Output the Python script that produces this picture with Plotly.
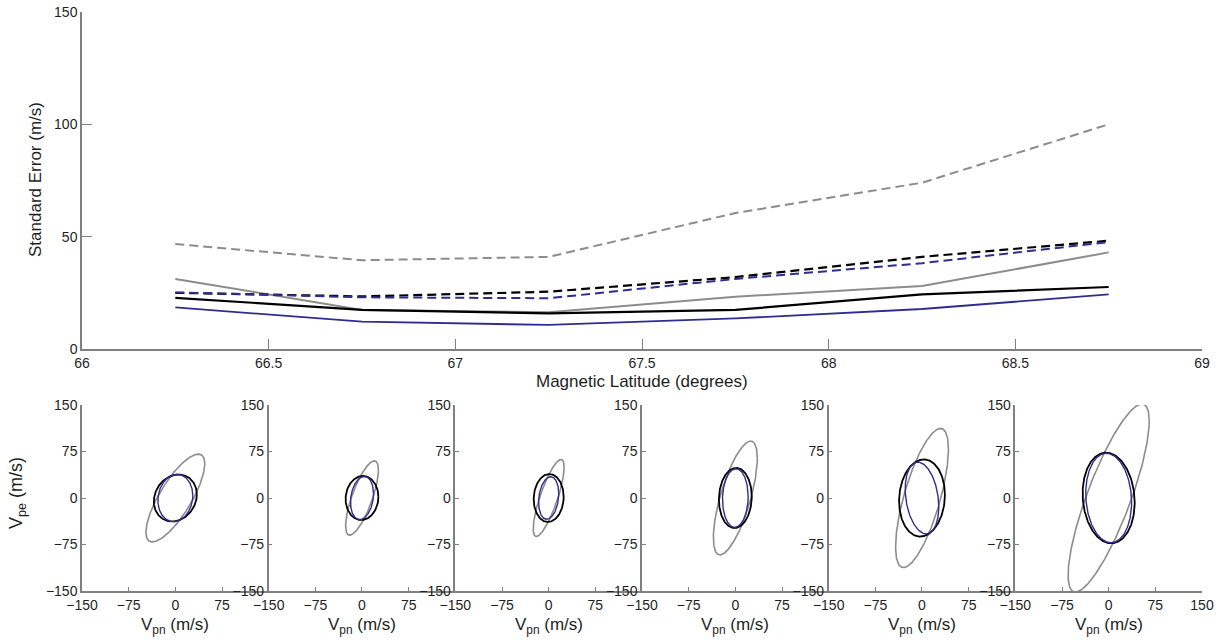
import numpy as np
import plotly.graph_objects as go

# ---------------- data ----------------
latitude = [66.25, 66.75, 67.25, 67.75, 68.25, 68.75]

# standard errors (m/s): solid = V_pn, dashed = V_pe
gray_pn = [31.2, 17.4, 16.4, 23.3, 28.0, 43.0]
gray_pe = [46.7, 39.5, 41.0, 60.5, 74.0, 100.0]
black_pn = [22.8, 17.4, 15.9, 17.4, 24.3, 27.6]
black_pe = [25.0, 23.4, 25.5, 32.0, 41.0, 48.2]
blue_pn = [18.5, 12.2, 10.7, 13.6, 17.8, 24.3]
blue_pe = [25.2, 23.0, 22.6, 31.2, 38.2, 47.6]

# correlation coefficients of the error ellipses (one per latitude bin)
gray_rho = [0.78, 0.75, 0.80, 0.70, 0.70, 0.82]
black_rho = [0.15, 0.05, 0.05, 0.05, 0.08, -0.10]
blue_rho = [0.10, 0.20, 0.20, 0.05, -0.25, -0.10]

top_xticks = [66, 66.5, 67, 67.5, 68, 68.5, 69]
top_yticks = [0, 50, 100, 150]
panel_ticks = [-150, -75, 0, 75, 150]

# ---------------- style ----------------
W, H = 1226, 642
FONT = "Liberation Sans, Arial, Helvetica, sans-serif"
TXT = "#1e1e1e"
AXC = "#808080"
GRAY = "#8c8c8c"
BLACK = "#000000"
BLUE = "#2f2d8f"
K = np.sqrt(2.30)  # 68% confidence scaling for 2 DOF

fig = go.Figure()

def px_x(p):
    return p / W

def px_y(p):
    return 1 - p / H

# ---------------- top panel ----------------
top_series = [
    (gray_pe, GRAY, "9px,5px", 2.0),
    (gray_pn, GRAY, "solid", 2.0),
    (black_pn, BLACK, "solid", 2.2),
    (blue_pn, BLUE, "solid", 1.8),
    (black_pe, BLACK, "9px,5px", 2.2),
    (blue_pe, BLUE, "9px,5px", 2.0),
]
for vals, col, dash, w in top_series:
    fig.add_trace(go.Scatter(x=latitude, y=vals, mode="lines",
                             line=dict(color=col, width=w, dash=dash),
                             xaxis="x", yaxis="y", showlegend=False,
                             hoverinfo="skip"))

axis_common = dict(showline=True, linecolor=AXC, linewidth=1.5,
                   ticks="inside", tickcolor=AXC, showgrid=False,
                   zeroline=False, mirror=False, automargin=False,
                   tickfont=dict(family=FONT, size=14, color=TXT))

layout = dict(
    width=W, height=H, margin=dict(l=0, r=0, t=0, b=0, autoexpand=False),
    paper_bgcolor="white", plot_bgcolor="white",
    font=dict(family=FONT, color=TXT),
    showlegend=False,
)
layout["xaxis"] = dict(axis_common, domain=[px_x(82), px_x(1202)],
                       range=[66, 69], tickvals=top_xticks,
                       ticktext=[f"{v:g}" for v in top_xticks],
                       ticklen=10, anchor="y")
layout["yaxis"] = dict(axis_common, domain=[px_y(349), px_y(12)],
                       range=[0, 150], tickvals=top_yticks,
                       ticklen=10, anchor="x")

# ---------------- ellipse panels ----------------
t = np.linspace(0, 2 * np.pi, 361)

def ellipse(sx, sy, rho):
    ex = K * sx * np.cos(t)
    ey = K * sy * (rho * np.cos(t) + np.sqrt(1 - rho ** 2) * np.sin(t))
    return ex, ey

panel_w = 1120 / 6.0
annotations = []
for i in range(len(latitude)):
    xa = f"x{i + 2}"
    ya = f"y{i + 2}"
    x0 = 82 + i * panel_w
    x1 = x0 + panel_w
    for sx_l, sy_l, r_l, col, w in [
        (gray_pn, gray_pe, gray_rho, GRAY, 1.6),
        (black_pn, black_pe, black_rho, BLACK, 1.8),
        (blue_pn, blue_pe, blue_rho, BLUE, 1.4),
    ]:
        ex, ey = ellipse(sx_l[i], sy_l[i], r_l[i])
        fig.add_trace(go.Scatter(x=ex, y=ey, mode="lines",
                                 line=dict(color=col, width=w),
                                 xaxis=xa, yaxis=ya, showlegend=False,
                                 hoverinfo="skip"))
    xt = panel_ticks if i == len(latitude) - 1 else panel_ticks[:-1]
    layout[f"xaxis{i + 2}"] = dict(axis_common, domain=[px_x(x0), px_x(x1)],
                                   range=[-150, 150], tickvals=xt,
                                   ticklen=4, anchor=ya,
                                   tickfont=dict(family=FONT, size=14, color=TXT))
    layout[f"yaxis{i + 2}"] = dict(axis_common, domain=[px_y(591), px_y(405)],
                                   range=[-150, 150], tickvals=panel_ticks,
                                   ticklen=4, anchor=xa)
    annotations.append(dict(text="V<sub>pn</sub> (m/s)", xref="paper",
                            yref="paper", x=px_x((x0 + x1) / 2),
                            y=px_y(626), xanchor="center", yanchor="middle",
                            showarrow=False,
                            font=dict(family=FONT, size=17, color=TXT)))

annotations += [
    dict(text="Standard Error (m/s)", xref="paper", yref="paper",
         x=px_x(35), y=px_y(180), xanchor="center", yanchor="middle",
         textangle=-90, showarrow=False,
         font=dict(family=FONT, size=17, color=TXT)),
    dict(text="Magnetic Latitude (degrees)", xref="paper", yref="paper",
         x=px_x(642), y=px_y(382), xanchor="center", yanchor="middle",
         showarrow=False, font=dict(family=FONT, size=17, color=TXT)),
    dict(text="V<sub>pe</sub> (m/s)", xref="paper", yref="paper",
         x=px_x(17), y=px_y(493), xanchor="center", yanchor="middle",
         textangle=-90, showarrow=False,
         font=dict(family=FONT, size=18, color=TXT)),
]
layout["annotations"] = annotations

fig.update_layout(**layout)
fig.write_html("out.html")
